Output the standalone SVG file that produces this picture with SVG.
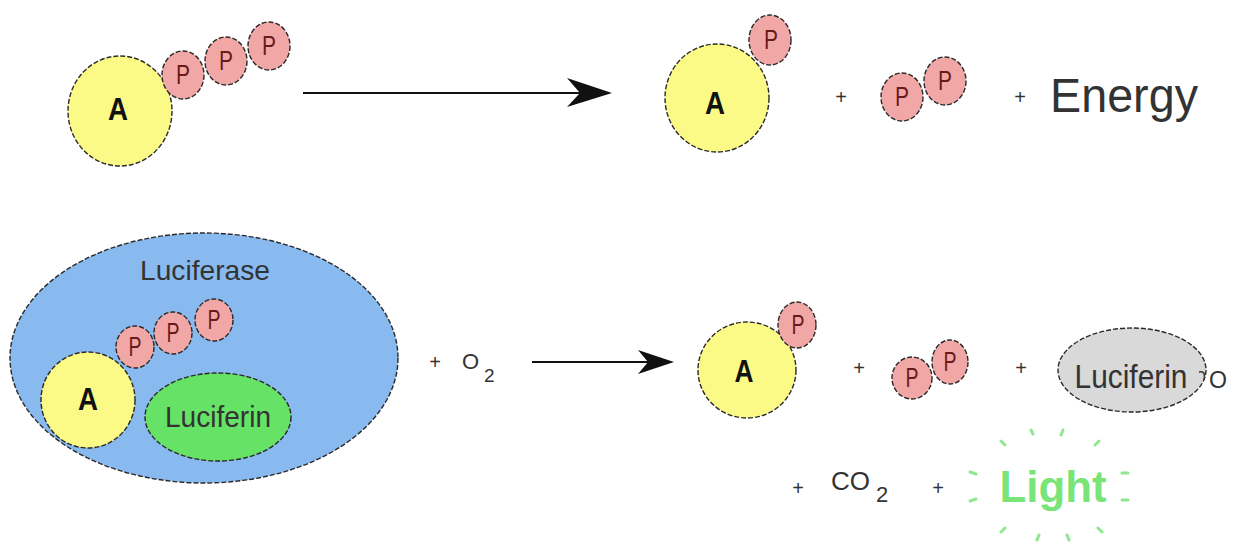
<svg xmlns="http://www.w3.org/2000/svg" width="1236" height="549" viewBox="0 0 1236 549">
<defs>
<style>
.ol{stroke:#2a2a2a;stroke-width:1.4;stroke-dasharray:5 2}
.ad{fill:#fbfa86}
.ph{fill:#f2a7a7}
.tA{font-family:"Liberation Sans",Arial,sans-serif;font-weight:bold;font-size:32px;fill:#111;text-anchor:middle}
.tP{font-family:"Liberation Sans",Arial,sans-serif;font-size:27px;fill:#6a1a1a;text-anchor:middle}
.tx{font-family:"Liberation Sans",Arial,sans-serif;fill:#333}
.pl{font-family:"Liberation Sans",Arial,sans-serif;font-size:20px;fill:#333;text-anchor:middle}
.ray{stroke:#6be06b;stroke-width:3;stroke-linecap:round;opacity:0.75}
</style>
</defs>
<rect width="1236" height="549" fill="#ffffff"/>

<!-- Top-left ATP -->
<g id="atp-top">
<ellipse class="ad ol" cx="120" cy="111" rx="52" ry="55"/>
<text class="tA" x="118" y="120" textLength="20" lengthAdjust="spacingAndGlyphs">A</text>
<ellipse class="ph ol" cx="183" cy="75" rx="21" ry="24"/>
<ellipse class="ph ol" cx="226" cy="61" rx="21" ry="24"/>
<ellipse class="ph ol" cx="269" cy="46" rx="21" ry="24"/>
<text class="tP" x="183" y="84" textLength="14" lengthAdjust="spacingAndGlyphs">P</text>
<text class="tP" x="226" y="70" textLength="14" lengthAdjust="spacingAndGlyphs">P</text>
<text class="tP" x="269" y="55" textLength="14" lengthAdjust="spacingAndGlyphs">P</text>
</g>

<!-- Top-right ADP -->
<g id="adp-top">
<ellipse class="ad ol" cx="717" cy="98" rx="52" ry="54"/>
<text class="tA" x="715" y="114" textLength="20" lengthAdjust="spacingAndGlyphs">A</text>
<ellipse class="ph ol" cx="770" cy="40" rx="21" ry="25"/>
<text class="tP" x="771" y="49" textLength="14" lengthAdjust="spacingAndGlyphs">P</text>
</g>

<g id="pp-top">
<ellipse class="ph ol" cx="902" cy="97" rx="21" ry="24"/>
<ellipse class="ph ol" cx="945" cy="81" rx="21" ry="24"/>
<text class="tP" x="902" y="106" textLength="14" lengthAdjust="spacingAndGlyphs">P</text>
<text class="tP" x="945" y="90" textLength="14" lengthAdjust="spacingAndGlyphs">P</text>
</g>

<g id="energy">
<text class="tx" x="1050" y="112" font-size="48" fill="#111" textLength="148" lengthAdjust="spacingAndGlyphs">Energy</text>
</g>

<g id="plus-top">
<text class="pl" x="841" y="104">+</text>
<text class="pl" x="1020" y="104">+</text>
</g>

<!-- Bottom-left Luciferase complex -->
<g id="luciferase">
<ellipse cx="204" cy="358" rx="194" ry="125" fill="#88b9ef" class="ol"/>
<text class="tx" x="205" y="280" font-size="28" fill="#1e2c6e" text-anchor="middle" textLength="130" lengthAdjust="spacingAndGlyphs">Luciferase</text>
<ellipse class="ad ol" cx="88" cy="400" rx="47" ry="48"/>
<text class="tA" x="88" y="410" textLength="20" lengthAdjust="spacingAndGlyphs">A</text>
<ellipse class="ph ol" cx="135" cy="347" rx="19" ry="21"/>
<ellipse class="ph ol" cx="173" cy="333" rx="19" ry="21"/>
<ellipse class="ph ol" cx="214" cy="320" rx="19" ry="21"/>
<text class="tP" x="135" y="356" textLength="13" lengthAdjust="spacingAndGlyphs">P</text>
<text class="tP" x="173" y="342" textLength="13" lengthAdjust="spacingAndGlyphs">P</text>
<text class="tP" x="214" y="329" textLength="13" lengthAdjust="spacingAndGlyphs">P</text>
</g>
<g id="luciferin">
<ellipse cx="218" cy="417" rx="73" ry="44" fill="#66e266" class="ol"/>
<text class="tx" x="218" y="427" font-size="30" fill="#1f5a1f" text-anchor="middle" textLength="106" lengthAdjust="spacingAndGlyphs">Luciferin</text>
</g>

<g id="o2">
<text class="pl" x="435" y="369">+</text>
<text class="tx" x="462" y="369" font-size="22">O</text>
<text class="tx" x="484" y="382" font-size="19">2</text>
</g>

<!-- Bottom-right products -->
<g id="adp-bottom">
<ellipse class="ad ol" cx="747" cy="370" rx="49" ry="48"/>
<text class="tA" x="744" y="382" textLength="19" lengthAdjust="spacingAndGlyphs">A</text>
<ellipse class="ph ol" cx="797" cy="325" rx="19" ry="23"/>
<text class="tP" x="798" y="334" textLength="13" lengthAdjust="spacingAndGlyphs">P</text>
</g>

<g id="pp-bottom">
<ellipse class="ph ol" cx="912" cy="378" rx="20" ry="21"/>
<ellipse class="ph ol" cx="950" cy="362" rx="18" ry="22"/>
<text class="tP" x="912" y="387" textLength="13" lengthAdjust="spacingAndGlyphs">P</text>
<text class="tP" x="950" y="371" textLength="13" lengthAdjust="spacingAndGlyphs">P</text>
</g>

<g id="oxyluciferin">
<ellipse cx="1132" cy="370" rx="74" ry="42" fill="#d9d9d9" class="ol"/>
<text class="tx" x="1131" y="388" font-size="34" fill="#444" text-anchor="middle" textLength="113" lengthAdjust="spacingAndGlyphs">Luciferin</text>
<path d="M1199,372 Q1206,370 1204,380" fill="none" stroke="#333" stroke-width="1.5"/>
<text class="tx" x="1209" y="388" font-size="24" fill="#444" textLength="18" lengthAdjust="spacingAndGlyphs">O</text>
</g>

<g id="plus-bottom">
<text class="pl" x="859" y="375">+</text>
<text class="pl" x="1021" y="375">+</text>
</g>

<g id="co2">
<text class="pl" x="798" y="495">+</text>
<text class="tx" x="831" y="490" font-size="26">CO</text>
<text class="tx" x="876" y="502" font-size="22">2</text>
<text class="pl" x="938" y="495">+</text>
</g>

<g id="light">
<text x="1053" y="502" font-family="'Liberation Sans',Arial,sans-serif" font-weight="bold" font-size="44" fill="#66e266" fill-opacity="0.9" text-anchor="middle" textLength="107" lengthAdjust="spacingAndGlyphs">Light</text>
<line class="ray" x1="1001" y1="441" x2="1005" y2="445"/>
<line class="ray" x1="1031" y1="430" x2="1033" y2="434"/>
<line class="ray" x1="1063" y1="430" x2="1061" y2="435"/>
<line class="ray" x1="1099" y1="441" x2="1095" y2="445"/>
<line class="ray" x1="970" y1="472" x2="976" y2="474"/>
<line class="ray" x1="970" y1="501" x2="976" y2="499"/>
<line class="ray" x1="1122" y1="473" x2="1128" y2="473"/>
<line class="ray" x1="1122" y1="500" x2="1128" y2="500"/>
<line class="ray" x1="1005" y1="528" x2="1001" y2="532"/>
<line class="ray" x1="1039" y1="535" x2="1037" y2="540"/>
<line class="ray" x1="1067" y1="535" x2="1069" y2="540"/>
<line class="ray" x1="1098" y1="528" x2="1102" y2="532"/>
</g>

<!-- Connectors -->
<g id="connectors">
<line x1="303" y1="93" x2="582" y2="93" stroke="#111" stroke-width="2.2"/>
<path d="M612,93 L567,78 L580,93 L567,107 Z" fill="#111"/>
<line x1="532" y1="362" x2="650" y2="362" stroke="#111" stroke-width="2"/>
<path d="M674,362 L638,350 L648,362 L638,374 Z" fill="#111"/>
</g>
</svg>
